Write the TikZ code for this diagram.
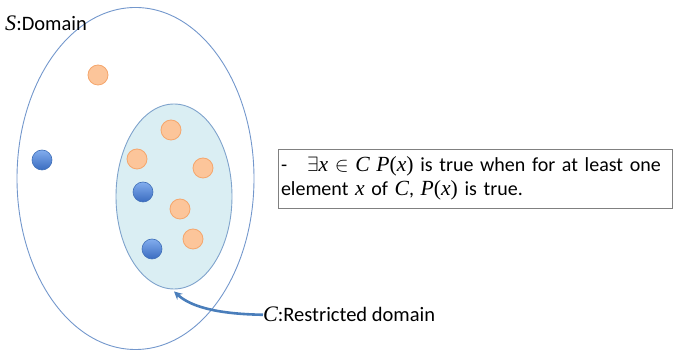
\documentclass[tikz,border=0pt]{standalone}
\usepackage{fontspec}
\setmainfont{Carlito}
\newfontfamily\mathfnt{Liberation Serif}[Scale=1.08]
\newcommand\myvar[1]{{\mathfnt\itshape #1}}
\newcommand\myup[1]{{\mathfnt #1}}
\usetikzlibrary{shapes.geometric,arrows.meta}
\definecolor{outerline}{HTML}{7397CC}
\definecolor{innerfill}{HTML}{DAEEF3}
\definecolor{innerline}{HTML}{7FA3CC}
\definecolor{orangefill}{HTML}{FCC59A}
\definecolor{orangeline}{HTML}{F5A66C}
\definecolor{bluetop}{HTML}{82ADEE}
\definecolor{bluebot}{HTML}{3A6CC0}
\definecolor{blueline}{HTML}{3F6FB8}
\definecolor{arrowcol}{HTML}{4A7EBB}
\definecolor{boxline}{HTML}{808080}
\tikzset{
  setshape/.style={ellipse, inner sep=0pt},
  orangedot/.style={circle, minimum size=20pt, inner sep=0pt, fill=orangefill, draw=orangeline, line width=0.8pt},
  bluedot/.style={circle, minimum size=20pt, inner sep=0pt, top color=bluetop, bottom color=bluebot, draw=blueline, line width=0.6pt},
  lbl/.style={font=\fontsize{20.5}{24}\selectfont, inner sep=0pt},
}
\begin{document}
\begin{tikzpicture}[x=1pt,y=-1pt]
\useasboundingbox (0,0) rectangle (675,352);
\node[setshape, draw=outerline, line width=0.9pt, minimum width=237pt, minimum height=342pt] (S) at (135.5,178.5) {};
\node[setshape, draw=innerline, fill=innerfill, line width=0.9pt, minimum width=116pt, minimum height=185pt] (C) at (174,196.5) {};
\node[orangedot] (o1) at (98,75) {};
\node[orangedot] (o2) at (171,130) {};
\node[orangedot] (o3) at (137,159) {};
\node[orangedot] (o4) at (203,168) {};
\node[orangedot] (o5) at (180,209) {};
\node[orangedot] (o6) at (193,239) {};
\node[bluedot] (b1) at (42,160) {};
\node[bluedot] (b2) at (143,192) {};
\node[bluedot] (b3) at (152,249) {};
\node[lbl, anchor=base west] (Slab) at (5,31) {\myvar{S}:Domain};
\node[lbl, anchor=base west] (Clab) at (263,322) {\myvar{C}:Restricted domain};
\draw[arrowcol, line width=2.6pt, -{Stealth[length=8pt,width=8pt]}] (Clab.west) .. controls (215,314) and (190,306) .. ([yshift=-2pt]C.south);
\node[draw=boxline, line width=0.9pt, minimum width=394pt, minimum height=59pt, text width=388pt, inner xsep=3pt, inner ysep=0pt, align=left, font=\fontsize{20}{24}\selectfont] (box) at (475,178.5)
  {-\hspace{20pt}$\exists$\myvar{x} $\in$ \myvar{C} \myvar{P}\myup{(}\myvar{x}\myup{)} is true when for at least one\\element \myvar{x} of \myvar{C}, \myvar{P}\myup{(}\myvar{x}\myup{)} is true.};
\end{tikzpicture}
\end{document}
